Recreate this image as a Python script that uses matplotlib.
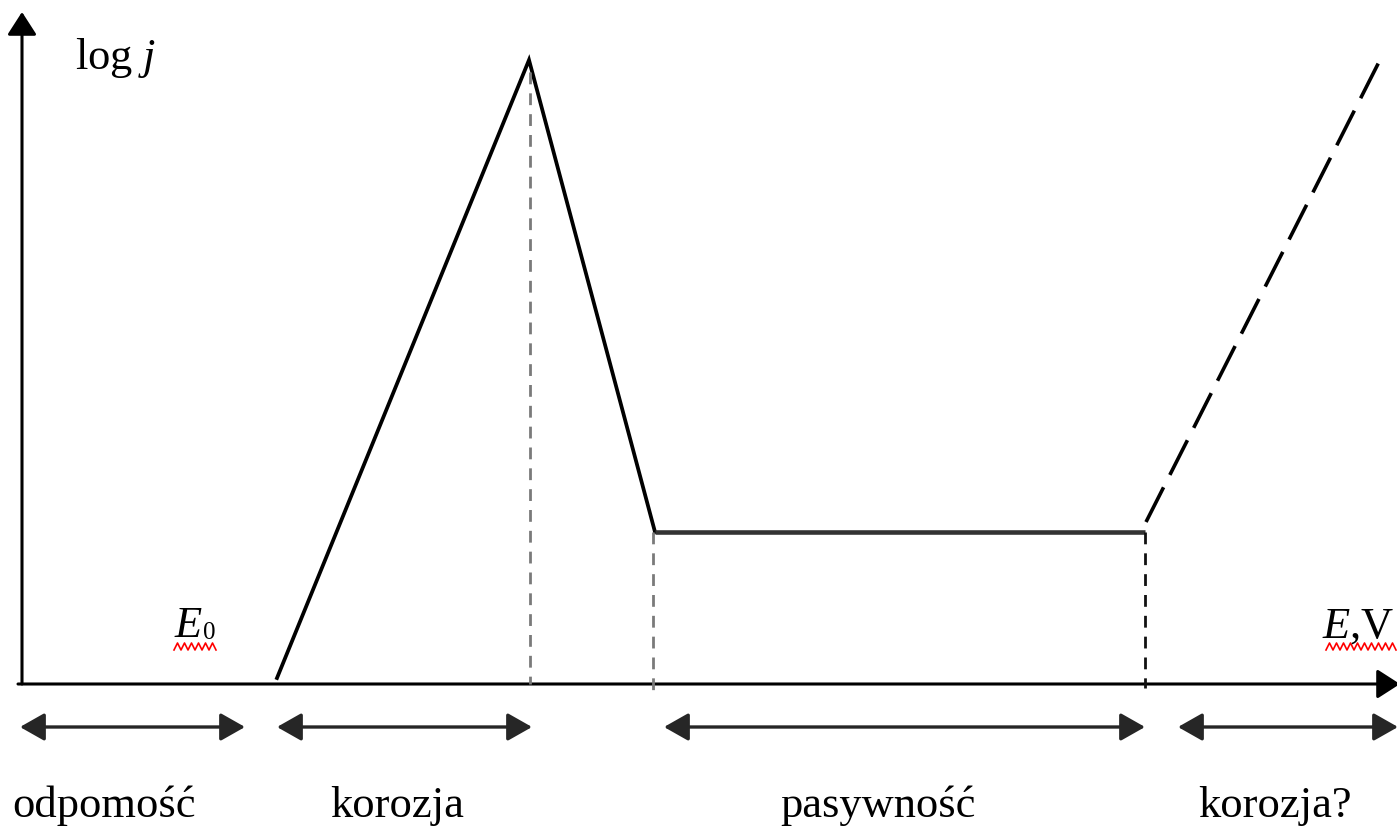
import numpy as np
import matplotlib.pyplot as plt
from matplotlib.patches import FancyArrowPatch

plt.rcParams['font.family'] = ['Liberation Serif', 'DejaVu Serif']
plt.rcParams['mathtext.fontset'] = 'custom'
plt.rcParams['mathtext.rm'] = 'Liberation Serif'
plt.rcParams['mathtext.it'] = 'Liberation Serif:italic'
plt.rcParams['lines.scale_dashes'] = False

# polarisation curve (E along x, log j along y), arbitrary units
E_curve = [255, 507, 633, 1123]
logj_curve = [6, 624, 152, 152]

# possible transpassive rise (dashed)
E_rise = [1124, 1359]
logj_rise = [162, 626]

# dashed drop lines marking the region boundaries
E_marks = [508, 631, 1123]
mark_top = [612, 152, 152]
mark_bottom = [0, -10, -4]
mark_colors = ['#7a7a7a', '#7a7a7a', '#111111']

# regions shown under the axis
region_start = [-2, 255, 642, 1156]
region_end = [223, 510, 1123, 1376]
region_center = [82, 375, 856, 1253]
region_labels = ['odpomość', 'korozja', 'pasywność', 'korozja?']

fig = plt.figure(figsize=(13.97, 8.26), dpi=100)
ax = fig.add_axes([0, 0, 1, 1])
ax.set_xlim(-22, 1375)
ax.set_ylim(-142, 684)
ax.axis('off')

# axes with arrow heads
ax.add_patch(FancyArrowPatch((0, 0), (0, 672), arrowstyle='-|>,head_length=14,head_width=9',
                             mutation_scale=1, color='black', lw=2.2, shrinkA=0, shrinkB=0))
ax.add_patch(FancyArrowPatch((-4, 0), (1378, 0), arrowstyle='-|>,head_length=14,head_width=9',
                             mutation_scale=1, color='black', lw=2.2, shrinkA=0, shrinkB=0))

# curve
ax.plot(E_curve[:3], logj_curve[:3], color='black', lw=2.7, solid_joinstyle='miter')
ax.plot(E_curve[2:], logj_curve[2:], color='#333333', lw=3.3, solid_capstyle='butt')
ax.plot(E_rise, logj_rise, color='black', lw=2.6, dashes=(28, 10), solid_capstyle='butt')

for x, top, bot, c in zip(E_marks, mark_top, mark_bottom, mark_colors):
    ax.plot([x, x], [top, bot], color=c, lw=2.0, dashes=(8.5, 6.5))

# region arrows and names
for x0, x1, xc, name in zip(region_start, region_end, region_center, region_labels):
    ax.add_patch(FancyArrowPatch((x0, -43), (x1, -43), arrowstyle='<|-|>,head_length=15,head_width=8.5',
                                 mutation_scale=1, color='#262626', lw=2.4, shrinkA=0, shrinkB=0))
    ax.text(xc, -133, name, fontsize=32, ha='center', va='baseline')

ax.text(53, 615, r'log $j$', fontsize=32, va='baseline')
ax.text(152, 47, r'$E$', fontsize=32, va='baseline')
ax.text(181, 45, '0', fontsize=18, va='baseline')
ax.text(1372, 46, r'$E$,V', fontsize=32, ha='right', va='baseline')

# spell-check style wavy underline
for x0, x1 in [(152, 196), (1304, 1374)]:
    zx = np.arange(x0, x1 + 1, 3.5)
    zy = np.where(np.arange(len(zx)) % 2 == 0, 34, 41)
    ax.plot(zx, zy, color='red', lw=1.2)

fig.savefig('out.png', dpi=100)
